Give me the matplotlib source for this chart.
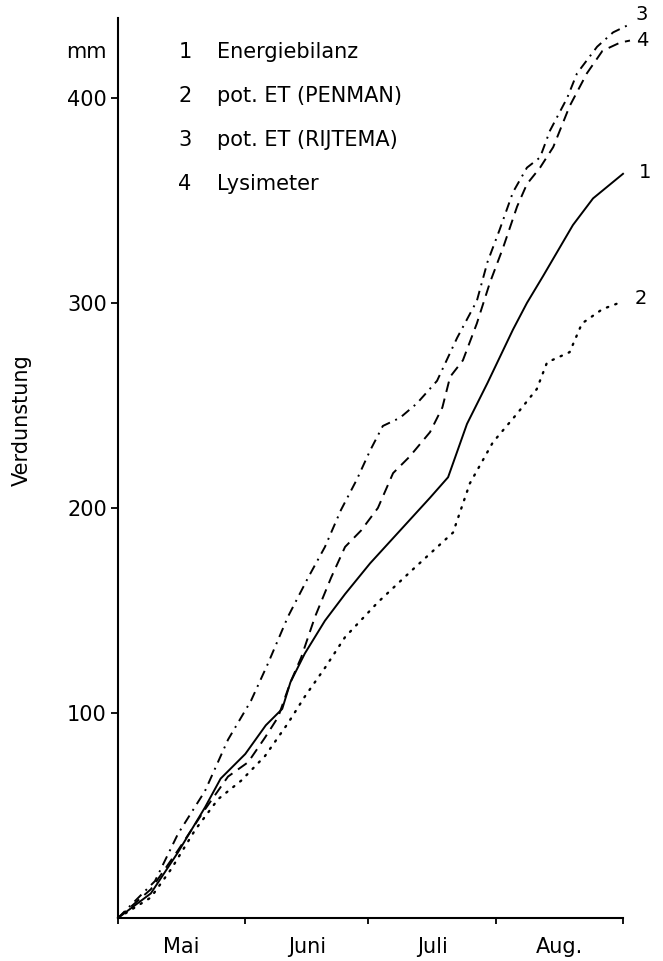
import matplotlib
matplotlib.use("Agg")
import matplotlib.pyplot as plt

# Tage ab 1. Mai, kumulierte Verdunstung in mm
energie_tage = [0, 8, 14.6, 21.2, 25, 31, 36, 40, 42, 45.5, 50.4, 55.3, 61.4, 76,
                80.4, 85, 90, 96.2, 99.6, 103.5, 110.8, 115.7, 123]
energie_mm = [0, 12, 32, 54, 68, 80, 94, 102, 115, 129, 145, 158, 173, 205,
              215, 241, 261, 287, 300, 313, 338, 351, 363]

penman_tage = [0, 8, 13, 18.8, 24.4, 30, 35.8, 41.4, 45.5, 50.4, 55.3, 63.3, 71.8,
               81.6, 85.7, 91.3, 97.2, 102, 104.5, 110, 113, 118, 122]
penman_mm = [0, 10, 24, 43, 58, 67, 79, 95, 108, 122, 137, 154, 170,
             188, 212, 232, 246, 258, 271, 276, 290, 297, 300]

rijtema_tage = [0, 9, 14.6, 21.2, 26.8, 32.4, 36.5, 41.4, 46.3, 50.4, 54.3, 58.2,
                61.4, 64.5, 68.7, 72.8, 77.7, 82.6, 87.4, 90, 93, 96.2, 99.6,
                102.8, 105.2, 109.4, 111.8, 116.7, 120.6, 124.7]
rijtema_mm = [0, 18, 41, 62, 87, 106, 124, 147, 166, 181, 199, 214,
              228, 240, 244, 251, 262, 283, 301, 320, 336, 354, 366,
              371, 384, 400, 412, 425, 432, 436]

lysi_tage = [0, 8, 14.6, 21.2, 26.8, 31.7, 35.8, 39, 42, 44.6, 48, 51.9, 55.3,
             59.2, 63.3, 67, 71, 76, 79, 80.9, 84, 87.4, 90.6, 93.8, 97.2, 99.6,
             102.8, 106, 110, 114.2, 118, 122.3, 124.7]
lysi_mm = [0, 14, 33, 53, 69, 76, 88, 98, 115, 127, 147, 166, 181,
           189, 200, 217, 225, 237, 249, 264, 272, 290, 310, 327, 347, 358,
           366, 376, 396, 412, 423, 427, 428]

monat_grenzen = [0, 31, 61, 92, 123]
monat_mitte = [15.5, 46, 76.5, 107.5]
monat_namen = ["Mai", "Juni", "Juli", "Aug."]
y_ticks = [100, 200, 300, 400]

legende = ["Energiebilanz", "pot. ET (PENMAN)", "pot. ET (RIJTEMA)", "Lysimeter"]

plt.rcParams['font.family'] = ['DejaVu Sans']
fs = 15

fig = plt.figure(figsize=(6.63, 9.61), dpi=100)
ax = fig.add_axes([118 / 663, 43 / 961, 505 / 663, 900 / 961])

lw = 1.4
ax.plot(energie_tage, energie_mm, color='black', lw=lw, ls='-', clip_on=False)
ax.plot(penman_tage, penman_mm, color='black', lw=lw * 1.2, ls=(0, (0.6, 3.2)),
        dash_capstyle='round', clip_on=False)
ax.plot(rijtema_tage, rijtema_mm, color='black', lw=lw, ls=(0, (5, 3, 1, 3)), clip_on=False)
ax.plot(lysi_tage, lysi_mm, color='black', lw=lw, ls=(0, (5.5, 3.5)), clip_on=False)

ax.set_xlim(0, 123)
ax.set_ylim(0, 439)

for s in ['top', 'right']:
    ax.spines[s].set_visible(False)
for s in ['left', 'bottom']:
    ax.spines[s].set_linewidth(1.5)

ax.set_yticks(y_ticks)
ax.set_yticklabels([str(v) for v in y_ticks], fontsize=fs)
ax.tick_params(axis='y', direction='out', length=5, width=1.3, pad=3)

ax.set_xticks(monat_grenzen)
ax.set_xticklabels([])
ax.tick_params(axis='x', which='major', direction='out', length=4, width=1.3)
ax.set_xticks(monat_mitte, minor=True)
ax.set_xticklabels(monat_namen, minor=True, fontsize=fs)
ax.tick_params(axis='x', which='minor', length=0, pad=14)

fig.text(22 / 663, 1 - 420 / 961, "Verdunstung", rotation=90, fontsize=fs,
         ha='center', va='center')
fig.text(86 / 663, 1 - 52 / 961, "mm", fontsize=fs, ha='center', va='center')

# Legende als Text
zeilen_y = [52, 96, 140, 184]
for i, (txt, yy) in enumerate(zip(legende, zeilen_y)):
    fig.text(185 / 663, 1 - yy / 961, str(i + 1), fontsize=fs, ha='center', va='center')
    fig.text(217 / 663, 1 - yy / 961, txt, fontsize=fs, ha='left', va='center')

# Kurvennummern am Ende
ax.annotate("3", (rijtema_tage[-1], rijtema_mm[-1]), xytext=(6, 10),
            textcoords='offset pixels', fontsize=14, ha='left', va='center',
            annotation_clip=False)
ax.annotate("4", (lysi_tage[-1], lysi_mm[-1]), xytext=(6, 0),
            textcoords='offset pixels', fontsize=14, ha='left', va='center',
            annotation_clip=False)
ax.annotate("1", (energie_tage[-1], energie_mm[-1]), xytext=(16, 1),
            textcoords='offset pixels', fontsize=14, ha='left', va='center',
            annotation_clip=False)
ax.annotate("2", (penman_tage[-1], penman_mm[-1]), xytext=(16, 4),
            textcoords='offset pixels', fontsize=14, ha='left', va='center',
            annotation_clip=False)

fig.savefig("out.png", dpi=100)
